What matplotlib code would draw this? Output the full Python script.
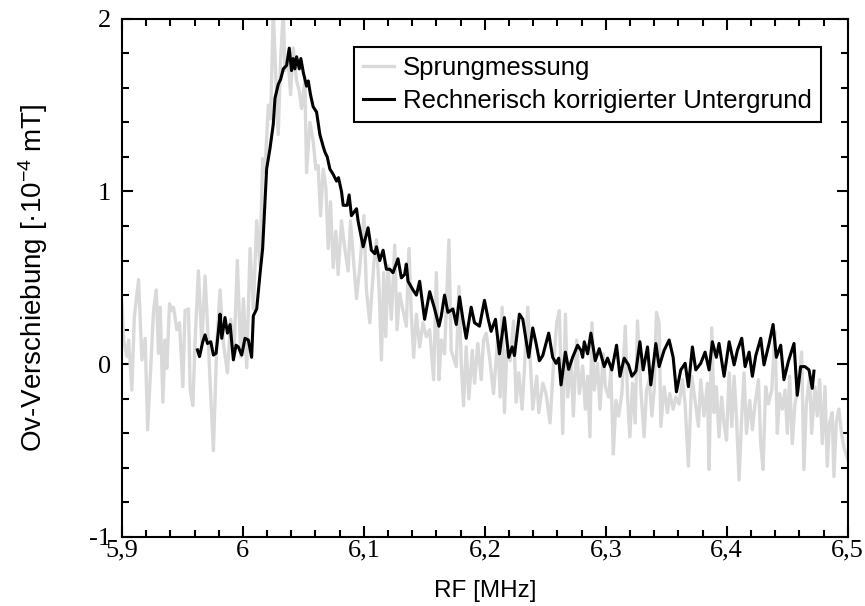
import matplotlib
matplotlib.use('Agg')
import matplotlib.pyplot as plt
from matplotlib.ticker import MultipleLocator

# Sprungmessung (Rohdaten)
rf_sprung = [5.9000, 5.9014, 5.9041, 5.9055, 5.9082, 5.9102, 5.9137, 5.9165, 5.9192, 5.9212,
             5.9239, 5.9261, 5.9283, 5.9302, 5.9316, 5.9338, 5.9357, 5.9371, 5.9393, 5.9412,
             5.9426, 5.9454, 5.9476, 5.9503, 5.9522, 5.9550, 5.9564, 5.9586, 5.9605, 5.9632,
             5.9660, 5.9687, 5.9715, 5.9729, 5.9756, 5.9784, 5.9811, 5.9839, 5.9872, 5.9899,
             5.9927, 5.9954, 5.9982,
             6.0004, 6.0031, 6.0059, 6.0086, 6.0114, 6.0141, 6.0163, 6.0182, 6.0210, 6.0229,
             6.0251, 6.0273, 6.0292, 6.0312, 6.0334, 6.0347, 6.0375, 6.0394, 6.0416, 6.0444,
             6.0466, 6.0485, 6.0512, 6.0526, 6.0554, 6.0581, 6.0603, 6.0622, 6.0642, 6.0664,
             6.0686, 6.0705, 6.0724, 6.0746, 6.0768, 6.0787, 6.0815, 6.0842, 6.0870, 6.0889,
             6.0911, 6.0939, 6.0966,
             6.1000, 6.1021, 6.1049, 6.1082, 6.1104, 6.1126, 6.1145, 6.1164, 6.1181, 6.1200,
             6.1227, 6.1255, 6.1274, 6.1296, 6.1324, 6.1351, 6.1373, 6.1392, 6.1412, 6.1434,
             6.1461, 6.1489, 6.1516, 6.1544, 6.1577, 6.1599, 6.1621, 6.1640, 6.1667, 6.1703,
             6.1722, 6.1764, 6.1786, 6.1805, 6.1824, 6.1846, 6.1868, 6.1896, 6.1915, 6.1942,
             6.1970, 6.1989,
             6.2011, 6.2039, 6.2072, 6.2107, 6.2127, 6.2143, 6.2162, 6.2182, 6.2209, 6.2237,
             6.2259, 6.2281, 6.2308, 6.2327, 6.2355, 6.2374, 6.2396, 6.2429, 6.2446, 6.2479,
             6.2506, 6.2539, 6.2567, 6.2594, 6.2616, 6.2644, 6.2666, 6.2685, 6.2712, 6.2732,
             6.2759, 6.2781, 6.2809, 6.2831, 6.2850, 6.2869, 6.2886, 6.2905, 6.2932, 6.2952,
             6.2979,
             6.2996, 6.3023, 6.3042, 6.3062, 6.3084, 6.3106, 6.3133, 6.3161, 6.3180, 6.3199,
             6.3221, 6.3243, 6.3262, 6.3290, 6.3317, 6.3337, 6.3359, 6.3381, 6.3400, 6.3419,
             6.3441, 6.3455, 6.3482, 6.3510, 6.3529, 6.3557, 6.3579, 6.3606, 6.3634, 6.3656,
             6.3683, 6.3711, 6.3738, 6.3766, 6.3785, 6.3812, 6.3840, 6.3854, 6.3876, 6.3895,
             6.3914, 6.3936, 6.3958, 6.3977,
             6.3998, 6.4020, 6.4042, 6.4061, 6.4080, 6.4102, 6.4124, 6.4143, 6.4163, 6.4190,
             6.4212, 6.4234, 6.4262, 6.4281, 6.4300, 6.4322, 6.4344, 6.4372, 6.4399, 6.4418,
             6.4438, 6.4460, 6.4482, 6.4501, 6.4520, 6.4542, 6.4564, 6.4592, 6.4619, 6.4638,
             6.4658, 6.4685, 6.4702, 6.4729, 6.4748, 6.4768, 6.4790, 6.4812, 6.4831, 6.4850,
             6.4872, 6.4886, 6.4905, 6.4927, 6.4949, 6.4968, 6.5000]
ov_sprung = [0.35, 0.14, 0.045, 0.14, -0.15, 0.27, 0.49, 0.025, 0.15, -0.38,
             0.005, 0.31, 0.43, 0.063, 0.33, -0.22, 0.14, -0.023, 0.35, 0.31,
             0.33, 0.20, 0.24, -0.13, 0.31, 0.32, -0.15, -0.24, 0.14, 0.54,
             0.12, 0.51, 0.12, -0.11, -0.50, 0.12, 0.43, 0.12, -0.05, 0.26,
             0.083, 0.60, 0.044,
             0.38, -0.02, 0.67, 0.32, 0.83, 0.57, 1.19, 1.11, 1.50, 1.42,
             2.05, 1.64, 1.33, 1.77, 2.05, 1.70, 1.75, 1.56, 1.83, 1.64,
             1.58, 1.48, 1.64, 1.11, 1.40, 1.29, 1.13, 1.15, 0.86, 1.13,
             1.02, 0.67, 0.94, 0.56, 0.77, 0.52, 0.83, 0.67, 0.54, 0.83,
             0.63, 0.38, 0.56,
             0.86, 0.43, 0.24, 0.58, 0.72, 0.43, 0.025, 0.53, 0.16, 0.57,
             0.26, 0.69, 0.20, 0.41, 0.31, 0.22, 0.67, 0.29, 0.04, 0.29,
             0.10, 0.24, 0.16, 0.20, -0.09, 0.53, -0.09, 0.14, 0.06, 0.72,
             0.08, -0.014, 0.45, 0.005, -0.24, 0.10, -0.20, 0.08, -0.11, 0.12,
             -0.09, 0.14,
             0.18, 0.04, -0.17, 0.16, -0.19, 0.33, -0.28, 0.08, 0.02, 0.25,
             -0.22, -0.05, -0.26, -0.03, 0.33, 0.04, -0.26, -0.07, -0.28, -0.11,
             -0.17, -0.34, -0.01, 0.24, 0.31, -0.40, 0.29, -0.19, 0.02, -0.30,
             0.14, -0.17, -0.01, -0.26, -0.07, -0.42, 0.24, -0.15, 0.005, -0.26,
             0.06,
             -0.13, -0.19, -0.033, -0.52, -0.21, -0.30, -0.17, 0.22, -0.19, -0.42,
             -0.11, -0.34, 0.25, -0.15, -0.42, -0.15, -0.09, -0.30, -0.15, 0.30,
             0.24, -0.36, -0.13, -0.28, -0.17, -0.26, -0.19, -0.23, -0.09, -0.23,
             -0.59, -0.07, -0.21, -0.36, -0.09, -0.30, -0.11, -0.61, 0.21, -0.28,
             -0.13, -0.42, -0.19, -0.34,
             -0.44, -0.05, -0.36, -0.07, -0.30, -0.67, -0.30, -0.05, -0.40, -0.21,
             -0.38, -0.23, -0.09, -0.46, -0.61, -0.13, -0.23, -0.15, 0.19, -0.40,
             -0.17, -0.26, -0.15, -0.40, -0.07, -0.46, -0.23, -0.13, 0.07, -0.61,
             -0.23, -0.07, -0.40, -0.13, -0.30, -0.09, -0.46, -0.13, -0.59, -0.34,
             -0.28, -0.65, -0.34, -0.26, -0.40, -0.48, -0.55]

# Rechnerisch korrigierter Untergrund
rf_korr = [5.9624, 5.9641, 5.9668, 5.9687, 5.9707, 5.9734, 5.9756, 5.9778, 5.9797, 5.9811,
           5.9825, 5.9852, 5.9872, 5.9894, 5.9921, 5.9943, 5.9962, 5.9990, 6.0017,
           6.0045, 6.0072, 6.0086, 6.0114, 6.0141, 6.0163, 6.0182, 6.0196, 6.0224, 6.0251,
           6.0265, 6.0292, 6.0312, 6.0334, 6.0361, 6.0383, 6.0402, 6.0416, 6.0430, 6.0444,
           6.0466, 6.0479, 6.0499, 6.0526, 6.0540, 6.0559, 6.0581, 6.0609, 6.0636, 6.0664,
           6.0677, 6.0697, 6.0719, 6.0746, 6.0774, 6.0790, 6.0815, 6.0829, 6.0862, 6.0878,
           6.0897, 6.0939, 6.0952,
           6.0994, 6.1035, 6.1062, 6.1090, 6.1104, 6.1131, 6.1159, 6.1186, 6.1214, 6.1241,
           6.1282, 6.1310, 6.1337, 6.1351, 6.1365, 6.1406, 6.1434, 6.1461, 6.1489, 6.1502,
           6.1544, 6.1585, 6.1621, 6.1640, 6.1667, 6.1695, 6.1736, 6.1764, 6.1791, 6.1819,
           6.1846, 6.1887, 6.1915, 6.1956,
           6.1997, 6.2025, 6.2052, 6.2088, 6.2121, 6.2162, 6.2198, 6.2226, 6.2245, 6.2286,
           6.2314, 6.2363, 6.2396, 6.2424, 6.2451, 6.2479, 6.2528, 6.2561, 6.2589, 6.2611,
           6.2630, 6.2666, 6.2693, 6.2726, 6.2767, 6.2795, 6.2809, 6.2822, 6.2850, 6.2877,
           6.2913, 6.2946,
           6.2987, 6.3015, 6.3050, 6.3089, 6.3117, 6.3152, 6.3188, 6.3216, 6.3249, 6.3282,
           6.3309, 6.3345, 6.3372, 6.3414, 6.3441, 6.3482, 6.3524, 6.3557, 6.3584, 6.3620,
           6.3656, 6.3683, 6.3716, 6.3744, 6.3785, 6.3821, 6.3854, 6.3881, 6.3914, 6.3936,
           6.3978, 6.4020, 6.4061, 6.4088, 6.4124, 6.4152, 6.4185, 6.4212, 6.4240, 6.4281,
           6.4308, 6.4350, 6.4383, 6.4410, 6.4446, 6.4473, 6.4509, 6.4556, 6.4583, 6.4611,
           6.4647, 6.4680, 6.4707, 6.4721]
ov_korr = [0.083, 0.044, 0.13, 0.17, 0.12, 0.13, 0.053, 0.063, 0.19, 0.29,
           0.15, 0.27, 0.18, 0.23, 0.025, 0.11, 0.10, 0.053, 0.15,
           0.14, 0.04, 0.28, 0.32, 0.52, 0.67, 0.94, 1.13, 1.25, 1.39,
           1.54, 1.62, 1.65, 1.71, 1.73, 1.83, 1.70, 1.77, 1.71, 1.78,
           1.71, 1.77, 1.69, 1.61, 1.64, 1.56, 1.49, 1.46, 1.33, 1.26,
           1.23, 1.20, 1.13, 1.10, 1.06, 1.08, 1.00, 0.92, 0.92, 0.98,
           0.86, 0.90, 0.83,
           0.68, 0.79, 0.66, 0.64, 0.68, 0.60, 0.66, 0.55, 0.55, 0.53,
           0.61, 0.50, 0.52, 0.58, 0.48, 0.43, 0.40, 0.48, 0.33, 0.26,
           0.42, 0.32, 0.22, 0.28, 0.40, 0.30, 0.32, 0.23, 0.39, 0.26,
           0.15, 0.33, 0.24, 0.22,
           0.37, 0.27, 0.19, 0.26, 0.06, 0.27, 0.04, 0.10, 0.05, 0.29,
           0.26, 0.04, 0.21, 0.12, 0.02, 0.05, 0.18, 0.04, 0.005, 0.035,
           -0.12, 0.07, -0.03, 0.04, 0.11, 0.08, 0.04, 0.13, 0.06, 0.18,
           0.02, 0.09,
           -0.014, 0.035, -0.033, 0.11, -0.07, 0.035, -0.004, -0.07, -0.04, 0.13,
           -0.033, 0.10, -0.12, 0.12, -0.014, 0.08, 0.14, 0.04, -0.16, -0.033,
           0.005, -0.13, 0.10, -0.033, 0.005, 0.07, -0.033, 0.13, 0.04, 0.12,
           -0.07, 0.13, -0.004, 0.08, 0.15, -0.014, 0.07, -0.07, 0.05, 0.15,
           -0.004, 0.12, 0.23, 0.04, 0.11, -0.09, 0.015, 0.12, -0.18, -0.014,
           -0.014, -0.033, -0.14, -0.04]

xticks = [5.9, 6.0, 6.1, 6.2, 6.3, 6.4, 6.5]
xticklabels = ['5,9', '6', '6,1', '6,2', '6,3', '6,4', '6,5']
yticks = [-1, 0, 1, 2]
yticklabels = ['-1', '0', '1', '2']

plt.rcParams['font.family'] = 'Liberation Sans'
plt.rcParams['mathtext.default'] = 'regular'

fig = plt.figure(figsize=(8.65, 6.06), dpi=100)
ax = fig.add_axes([0.141, 0.114, 0.839, 0.855])

ax.plot(rf_sprung, ov_sprung, color='#d9d9d9', lw=2.4, label='Sprungmessung')
ax.plot(rf_korr, ov_korr, color='black', lw=2.2, label='Rechnerisch korrigierter Untergrund')

ax.set_xlim(5.9, 6.5)
ax.set_ylim(-1, 2)
ax.set_xticks(xticks)
ax.set_xticklabels(xticklabels, family='Liberation Serif', fontsize=19)
ax.set_yticks(yticks)
ax.set_yticklabels(yticklabels, family='Liberation Serif', fontsize=19)
ax.xaxis.set_minor_locator(MultipleLocator(0.02))
ax.yaxis.set_minor_locator(MultipleLocator(0.2))
ax.tick_params(which='both', direction='in', top=True, right=True, width=1.5)
ax.tick_params(which='major', length=8)
ax.tick_params(which='minor', length=5)
ax.tick_params(axis='x', which='major', pad=2)
ax.tick_params(axis='y', which='major', pad=8)
for s in ax.spines.values():
    s.set_linewidth(1.5)

ax.set_xlabel('RF [MHz]', fontsize=17.5, labelpad=13)
ax.set_ylabel('Ov-Verschiebung [·10$^{-4}$ mT]', fontsize=20, labelpad=28)

leg = ax.legend(loc='upper right', bbox_to_anchor=(0.963, 0.946), borderaxespad=0,
                fontsize=18.5, fancybox=False, framealpha=1, edgecolor='black',
                handlelength=1.2, handletextpad=0.35, borderpad=0.35, labelspacing=0.35)
leg.get_frame().set_linewidth(1.5)

fig.savefig('out.png', dpi=100)
